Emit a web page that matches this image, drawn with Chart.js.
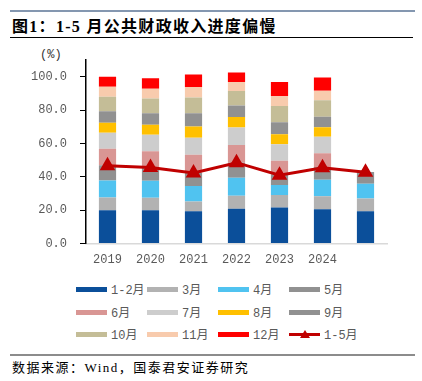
<!DOCTYPE html>
<html>
<head>
<meta charset="utf-8">
<script src="https://cdn.jsdelivr.net/npm/chart.js"></script>
<style>
  body { margin: 0; width: 422px; height: 381px; background: #fff; position: relative; overflow: hidden; font-family: "Liberation Serif", "Noto Sans CJK SC", serif; }
  .topline { position: absolute; left: 10px; top: 10px; width: 405px; height: 2px; background: #8497B0; }
  .title { position: absolute; left: 12px; top: 13px; font-size: 16px; letter-spacing: 1.3px; font-weight: bold; color: #000; white-space: nowrap; }
  .titleline { position: absolute; left: 10px; top: 37px; width: 403px; height: 1px; background: #000; }
  .unit { position: absolute; left: 40px; top: 48px; font-size: 12px; color: #333; font-family: "Liberation Mono", "Noto Sans CJK SC", monospace; }
  #wrap { position: absolute; left: 0; top: 40px; width: 422px; height: 235px; }
  .legend { position: absolute; left: 0; top: 280px; width: 422px; height: 70px; }
  .item { position: absolute; height: 14px; display: flex; align-items: center; font-size: 12px; color: #595959; font-family: "Liberation Mono", "Noto Sans CJK SC", monospace; white-space: nowrap; }
  .sw { width: 31px; height: 5px; margin-right: 4px; position: relative; }
  .tri { position: absolute; left: 11px; top: -3px; width: 0; height: 0; border-left: 5px solid transparent; border-right: 5px solid transparent; border-bottom: 8px solid #C00000; }
  .bottomline { position: absolute; left: 10px; top: 354px; width: 405px; height: 2px; background: #8c8c8c; }
  .source { position: absolute; left: 12px; top: 357px; font-size: 13px; letter-spacing: 1.5px; color: #000; white-space: nowrap; }
</style>
</head>
<body>
<div class="topline"></div>
<div class="title">图1：1-5 月公共财政收入进度偏慢</div>
<div class="titleline"></div>
<div class="unit">(%)</div>
<div id="wrap"><canvas id="myChart" width="422" height="235"></canvas></div>
<div class="legend" id="legend"></div>
<div class="bottomline"></div>
<div class="source">数据来源：Wind，国泰君安证券研究</div>
<script>
// categories (last bar is 2025 without a label)
const years = ['2019', '2020', '2021', '2022', '2023', '2024', ''];

// monthly share of full-year budget revenue, %
const jan_feb = [19.9, 20.0, 19.3, 20.9, 21.6, 20.6, 19.4];
const mar     = [7.7, 7.5, 5.9, 7.8, 7.5, 7.7, 7.6];
const apr     = [10.2, 10.1, 9.3, 10.7, 6.0, 9.9, 8.8];
const may     = [9.2, 8.3, 8.0, 9.1, 6.5, 7.7, 7.1];
const jun     = [9.9, 9.5, 10.7, 10.6, 8.0, 8.3, null];
const jul     = [9.6, 9.9, 10.3, 10.5, 9.9, 9.9, null];
const aug     = [5.9, 5.9, 6.7, 6.3, 6.1, 5.7, null];
const sep     = [6.9, 6.9, 7.9, 6.9, 7.2, 6.3, null];
const oct     = [8.7, 8.9, 9.5, 8.7, 9.7, 9.9, null];
const nov     = [6.1, 5.9, 6.3, 5.4, 5.9, 5.7, null];
const dec     = [5.9, 6.2, 7.5, 5.7, 8.5, 7.9, null];

// cumulative Jan-May progress
const jan_may = [46.7, 45.6, 42.3, 48.5, 41.0, 45.5, 42.7];

const yTicks = [0, 20, 40, 60, 80, 100];

const barSeries = [
    {label: '1-2月', data: jan_feb, color: '#0B4F9A'},
    {label: '3月', data: mar, color: '#B2B2B2'},
    {label: '4月', data: apr, color: '#50C3F0'},
    {label: '5月', data: may, color: '#919191'},
    {label: '6月', data: jun, color: '#D99694'},
    {label: '7月', data: jul, color: '#CDCDCD'},
    {label: '8月', data: aug, color: '#FFC000'},
    {label: '9月', data: sep, color: '#919191'},
    {label: '10月', data: oct, color: '#C4BD97'},
    {label: '11月', data: nov, color: '#F8CBAD'},
    {label: '12月', data: dec, color: '#FF0000'}
];

const datasets = barSeries.map(function(s){
    return {
        type: 'bar',
        label: s.label,
        data: s.data,
        backgroundColor: s.color,
        borderWidth: 0,
        stack: 'months',
        order: 1,
        barPercentage: 0.4,
        categoryPercentage: 1.0
    };
});
datasets.push({
    type: 'line',
    label: '1-5月',
    data: jan_may,
    borderColor: '#C00000',
    backgroundColor: '#C00000',
    borderWidth: 3,
    pointStyle: 'triangle',
    pointRadius: 6,
    pointHoverRadius: 6,
    stack: 'line',
    order: 0,
    tension: 0
});

const monoFont = {family: '"Liberation Mono", "Noto Sans CJK SC", monospace', size: 12};

let ctx = document.getElementById('myChart').getContext('2d');
let myChart = new Chart(ctx, {
    data: {labels: years, datasets: datasets},
    options: {
        responsive: false,
        animation: false,
        layout: {padding: {left: 0, right: 35, top: 18, bottom: 0}},
        plugins: {legend: {display: false}, tooltip: {enabled: false}},
        scales: {
            x: {
                stacked: true,
                grid: {display: false, drawTicks: false},
                border: {color: '#D9D9D9', width: 1.5},
                ticks: {color: '#595959', font: monoFont, padding: 9},
                afterFit: function(axis){ axis.height = 31.5; }
            },
            y: {
                stacked: true,
                min: 0,
                max: 110,
                afterBuildTicks: function(axis){
                    axis.ticks = yTicks.map(function(v){ return {value: v}; });
                },
                grid: {display: true, drawOnChartArea: false, drawTicks: true, tickLength: 6, color: '#000'},
                border: {color: '#000', width: 1.5},
                ticks: {
                    color: '#595959',
                    font: monoFont,
                    padding: 13,
                    callback: function(v){ return v.toFixed(1); }
                },
                afterFit: function(axis){ axis.width = 86; }
            }
        }
    }
});

// legend in a fixed 4-column grid, like the original
const legendBox = document.getElementById('legend');
const colX = [76, 147, 218, 289];
const rowY = [2, 25, 47];
myChart.data.datasets.forEach(function(ds, i){
    const item = document.createElement('div');
    item.className = 'item';
    item.style.left = colX[i % 4] + 'px';
    item.style.top = rowY[Math.floor(i / 4)] + 'px';
    const sw = document.createElement('div');
    sw.className = 'sw';
    if (ds.type === 'line') {
        sw.style.height = '3px';
        sw.style.background = ds.borderColor;
        const tri = document.createElement('div');
        tri.className = 'tri';
        sw.appendChild(tri);
    } else {
        sw.style.background = ds.backgroundColor;
    }
    item.appendChild(sw);
    const txt = document.createElement('span');
    txt.textContent = ds.label;
    item.appendChild(txt);
    legendBox.appendChild(item);
});
</script>
</body>
</html>
